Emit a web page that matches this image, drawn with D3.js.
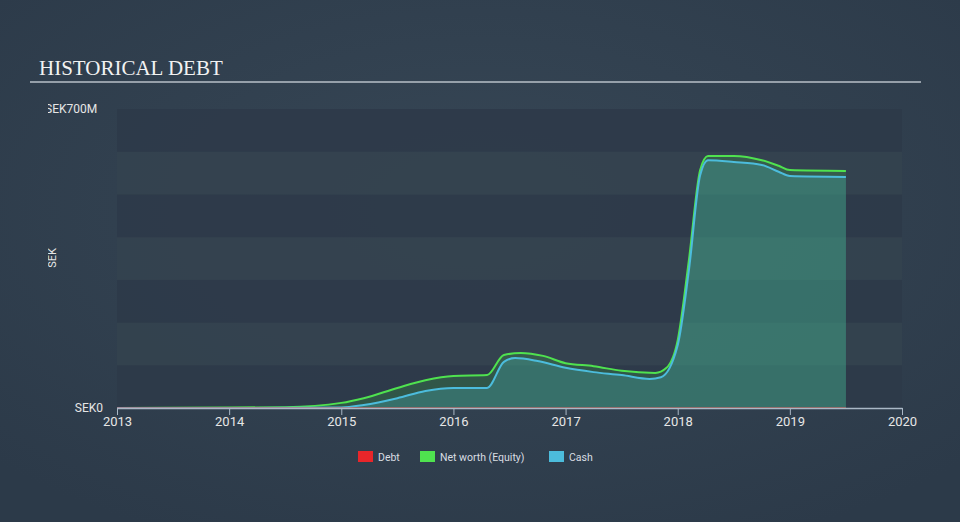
<!DOCTYPE html>
<html><head><meta charset="utf-8">
<script src="https://cdn.jsdelivr.net/npm/d3@7"></script>
<style>html,body{margin:0;padding:0;background:#2f3d4c;}svg{display:block;}</style>
</head><body>
<svg id="c" width="960" height="522"></svg>
<script>
const years = [2013,2014,2015,2016,2017,2018,2019,2020];
const yTickLabels = ["SEK0","SEK700M"];
const netWorthT = [2013,2014,2014.5,2015,2015.2,2015.5,2015.75,2016,2016.3,2016.45,2016.6,2016.8,2017,2017.25,2017.5,2017.8,2017.9,2018,2018.1,2018.2,2018.27,2018.5,2018.75,2018.9,2019,2019.5];
const netWorthV = [0,1,2,12,23,47,65,75,77,124,129,122,105,98,87,82,94,159,347,557,590,590,580,567,557,555];
const cashT = [2013,2014,2015,2015.2,2015.5,2015.75,2016,2016.3,2016.45,2016.55,2016.75,2017,2017.25,2017.5,2017.75,2017.85,2018,2018.1,2018.2,2018.27,2018.5,2018.75,2018.9,2019,2019.5];
const cashV = [0,0,1,7,23,40,47,47,108,117,110,94,84,77,68,72,147,323,545,580,576,569,553,543,541];
const debtT = [2013,2019.5];
const debtV = [0,0];

const svg = d3.select("#c");
const W=960,H=522;
const defs = svg.append("defs");
const bg = defs.append("radialGradient").attr("id","bg").attr("cx","50%").attr("cy","40%").attr("r","70%");
bg.append("stop").attr("offset","0%").attr("stop-color","#374756");
bg.append("stop").attr("offset","100%").attr("stop-color","#2c3a49");
svg.append("rect").attr("width",W).attr("height",H).attr("fill","url(#bg)");

const x = d3.scaleLinear().domain([2013,2020]).range([117,902]);
const y = d3.scaleLinear().domain([0,700]).range([408,109]);

// bands
const bandVals = d3.range(0,700,100);
svg.append("g").selectAll("rect").data(bandVals).join("rect")
  .attr("x",x(2013)).attr("width",x(2020)-x(2013))
  .attr("y",d=>y(d+100)).attr("height",d=>y(d)-y(d+100))
  .attr("fill",(d,i)=> i%2===0 ? "#2d3a49" : "#34424f").attr("opacity",0.9);

// title
svg.append("text").attr("x",39).attr("y",75).text("HISTORICAL DEBT")
  .attr("font-family","Liberation Serif, serif").attr("font-size",21).attr("fill","#f2f2f2");
svg.append("line").attr("x1",30).attr("x2",921).attr("y1",82).attr("y2",82).attr("stroke","#b8c0c8").attr("stroke-width",1.5);

const curve = d3.curveMonotoneX;
const nw = netWorthT.map((t,i)=>[t,netWorthV[i]]);
const cs = cashT.map((t,i)=>[t,cashV[i]]);
const db = debtT.map((t,i)=>[t,debtV[i]]);
const area = d3.area().x(d=>x(d[0])).y0(y(0)).y1(d=>y(d[1])).curve(curve);
const line = d3.line().x(d=>x(d[0])).y(d=>y(d[1])).curve(curve);

svg.append("path").datum(nw).attr("d",area).attr("fill","#44e344").attr("fill-opacity",0.17);
svg.append("path").datum(cs).attr("d",area).attr("fill","#4ab8c8").attr("fill-opacity",0.27);
svg.append("path").datum(nw).attr("d",line).attr("fill","none").attr("stroke","#4fe24f").attr("stroke-width",2);
svg.append("path").datum(cs).attr("d",line).attr("fill","none").attr("stroke","#4cbcdc").attr("stroke-width",2);
svg.append("path").datum(db).attr("d",line).attr("fill","none").attr("stroke","#e8403c").attr("stroke-width",1);

// x axis
const xAxis = d3.axisBottom(x).tickValues(years).tickFormat(d3.format("d")).tickSize(7).tickSizeOuter(0);
const gx = svg.append("g").attr("transform",`translate(0,${y(0)})`).call(xAxis);
gx.select(".domain").attr("stroke","#aab8c6").attr("stroke-width",1.5);
gx.selectAll(".tick line").attr("stroke","#aab8c6");
gx.selectAll("text").attr("fill","#e6e6e6").attr("font-family","Roboto, sans-serif").attr("font-size",13).attr("dy","0.6em");

// y labels (clipped at left as in reference)
defs.append("clipPath").attr("id","lc").append("rect").attr("x",48).attr("y",0).attr("width",200).attr("height",H);
const gl = svg.append("g").attr("clip-path","url(#lc)");
gl.append("text").attr("x",45).attr("y",113).text(yTickLabels[1]).attr("fill","#e6e6e6").attr("font-family","Roboto, sans-serif").attr("font-size",12);
gl.append("text").attr("transform","translate(56,258) rotate(-90)").attr("text-anchor","middle").text("SEK").attr("fill","#e6e6e6").attr("font-family","Roboto, sans-serif").attr("font-size",11);
svg.append("text").attr("x",103).attr("y",412).attr("text-anchor","end").text(yTickLabels[0]).attr("fill","#e6e6e6").attr("font-family","Roboto, sans-serif").attr("font-size",12);

// legend
const legend = [["Debt","#e8262a",358],["Net worth (Equity)","#4fe24f",420],["Cash","#4cbcdc",549]];
const lg = svg.append("g");
legend.forEach(([name,col,lx])=>{
  lg.append("rect").attr("x",lx).attr("y",451).attr("width",15).attr("height",11).attr("fill",col);
  lg.append("text").attr("x",lx+20).attr("y",461).text(name).attr("fill","#d8dde2").attr("font-family","Roboto, sans-serif").attr("font-size",10.5);
});
</script>
</body></html>
